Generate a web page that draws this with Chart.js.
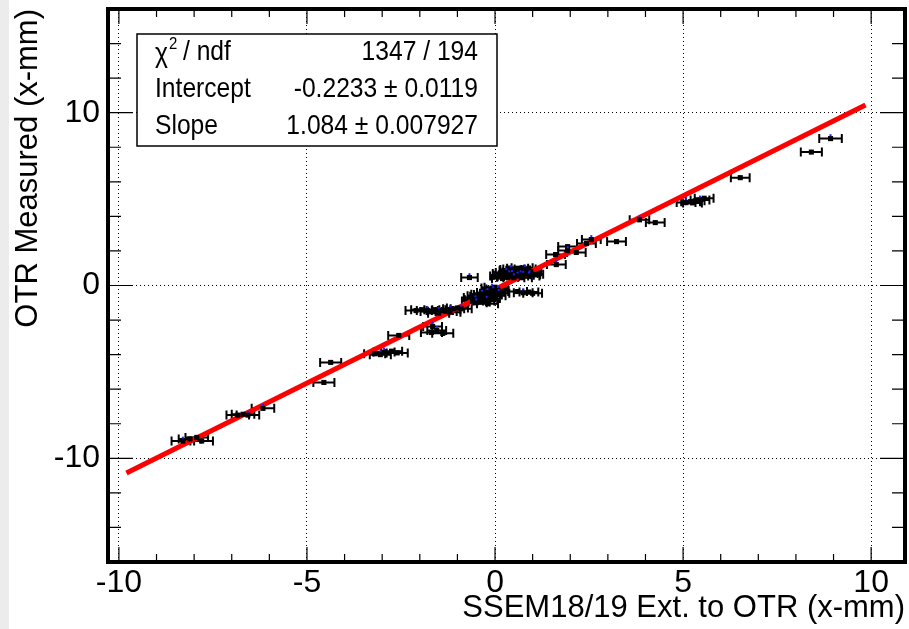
<!DOCTYPE html>
<html>
<head>
<meta charset="utf-8">
<script src="https://cdn.jsdelivr.net/npm/chart.js@4.4.0/dist/chart.umd.min.js"></script>
<style>
html, body { margin: 0; padding: 0; background: #fff; }
#strip { position: absolute; left: 0; top: 0; width: 9px; height: 629px; background: #ececec; }
#wrap { position: absolute; left: 0; top: 0; width: 909px; height: 629px; }
</style>
</head>
<body>
<div id="strip"></div>
<div id="wrap"><canvas id="myChart"></canvas></div>
<script>
// measured points (SSEM extrapolation vs OTR)
const xVals = [
    8.92, 8.41, 6.52, 5.08, 5.20, 5.32, 5.45, 5.56, 5.25,
    3.84, 4.26, 3.23, 2.56, 2.43, 1.93, 1.93, 2.16, 1.61, 1.63,
    0.15, 0.25, 0.30, 0.35, 0.40, 0.45, 0.50, 0.55, 0.60, 0.65, 0.70, 0.75, 0.80, 0.85, 0.90, 0.95, 1.00, 0.50, 0.70, 0.60, 0.80, 0.20,
    0.22, 0.38, 0.48, 0.58, 0.68, 0.78, 0.88, 0.42, 0.62, 0.72, 0.92, 0.33,
    0.60, 0.75, 0.90, 1.00, -0.68,
    -0.60, -0.55, -0.50, -0.45, -0.40, -0.35, -0.30, -0.25, -0.20, -0.15, -0.10, -0.05, 0.00, 0.05, 0.10, -0.20, 0.00,
    -0.52, -0.42, -0.32, -0.22, -0.12, -0.02, 0.08, -0.38, -0.28, -0.08,
    -2.10, -1.95, -1.80, -1.70, -1.60, -1.50, -1.40, -1.30, -1.20, -1.10, -1.00, -0.90, -1.50, -1.20,
    -1.66, -1.69, -1.39, -1.55, -2.56,
    -3.20, -2.95, -2.75, -2.60, -3.05,
    -4.37, -4.55,
    -6.17, -6.84, -6.70, -6.57,
    -7.93, -8.11, -8.30, -7.80
];
const yVals = [
    8.50, 7.72, 6.24, 4.80, 4.85, 4.90, 4.95, 5.05, 4.78,
    3.80, 3.64, 2.54, 2.66, 2.43, 2.25, 2.02, 1.91, 1.79, 1.21,
    0.55, 0.60, 0.75, 0.50, 0.85, 0.65, 0.95, 0.70, 0.55, 0.90, 0.75, 0.60, 0.85, 0.70, 0.55, 0.80, 0.65, 0.45, 0.45, 1.00, 0.95, 0.40,
    0.70, 0.62, 0.78, 0.88, 0.62, 0.72, 0.82, 0.92, 0.68, 1.02, 0.62, 0.48,
    -0.35, -0.42, -0.38, -0.45, 0.46,
    -0.90, -0.70, -1.00, -0.60, -0.80, -0.50, -0.90, -0.65, -0.40, -0.75, -0.55, -0.30, -0.60, -0.20, -0.45, -1.05, -0.10,
    -0.82, -0.95, -0.72, -0.85, -0.45, -0.38, -0.28, -0.62, -0.52, -0.15,
    -1.45, -1.40, -1.45, -1.50, -1.40, -1.50, -1.45, -1.50, -1.40, -1.35, -1.30, -1.35, -1.60, -1.55,
    -2.37, -2.72, -2.77, -2.60, -2.89,
    -3.95, -3.85, -3.80, -3.90, -4.00,
    -4.45, -5.61,
    -7.11, -7.50, -7.45, -7.50,
    -8.79, -8.88, -9.00, -9.00
];
const xErr = [
    0.30, 0.28, 0.25, 0.25, 0.25, 0.25, 0.25, 0.25, 0.25,
    0.26, 0.25, 0.25, 0.25, 0.25, 0.25, 0.25, 0.25, 0.25, 0.25,
    0.28, 0.28, 0.28, 0.28, 0.28, 0.28, 0.28, 0.28, 0.28, 0.28, 0.28, 0.28, 0.28, 0.28, 0.28, 0.28, 0.28, 0.28, 0.28, 0.28, 0.28, 0.28,
    0.28, 0.28, 0.28, 0.28, 0.28, 0.28, 0.28, 0.28, 0.28, 0.28, 0.28, 0.28,
    0.25, 0.25, 0.25, 0.25, 0.22,
    0.28, 0.28, 0.28, 0.28, 0.28, 0.28, 0.28, 0.28, 0.28, 0.28, 0.28, 0.28, 0.28, 0.28, 0.28, 0.28, 0.28,
    0.28, 0.28, 0.28, 0.28, 0.28, 0.28, 0.28, 0.28, 0.28, 0.28,
    0.28, 0.28, 0.28, 0.28, 0.28, 0.28, 0.28, 0.28, 0.28, 0.28, 0.28, 0.28, 0.28, 0.28,
    0.25, 0.28, 0.28, 0.25, 0.28,
    0.28, 0.28, 0.28, 0.28, 0.28,
    0.28, 0.28,
    0.30, 0.30, 0.30, 0.30,
    0.30, 0.30, 0.30, 0.30
];
const yErr = 0.08;

// fitted line end points
const fitX = [-9.80, 9.85];
const fitY = [-10.85, 10.45];

const xTicks = [-10, -5, 0, 5, 10];
const xMinor = [-9, -8, -7, -6, -4, -3, -2, -1, 1, 2, 3, 4, 6, 7, 8, 9];
const yTicks = [-10, 0, 10];
const yMinor = [-16, -14, -12, -8, -6, -4, -2, 2, 4, 6, 8, 12, 14, 16];

const statLabels = ['χ', 'Intercept', 'Slope'];
const statValues = ['1347 / 194', '-0.2233 ± 0.0119', '1.084 ± 0.007927'];

const FONT = '"Liberation Sans", Arial, Helvetica, sans-serif';

const errorBars = {
    id: 'errorBars',
    beforeDatasetsDraw(chart) {
        const ctx = chart.ctx;
        const xs = chart.scales.x, ys = chart.scales.y;
        ctx.save();
        ctx.strokeStyle = '#000';
        ctx.lineWidth = 2;
        for (let i = 0; i < xVals.length; i++) {
            const py = ys.getPixelForValue(yVals[i]);
            const x1 = xs.getPixelForValue(xVals[i] - xErr[i]);
            const x2 = xs.getPixelForValue(xVals[i] + xErr[i]);
            ctx.beginPath();
            ctx.moveTo(x1, py); ctx.lineTo(x2, py);
            ctx.moveTo(x1, py - 4.5); ctx.lineTo(x1, py + 4.5);
            ctx.moveTo(x2, py - 4.5); ctx.lineTo(x2, py + 4.5);
            ctx.stroke();
        }
        ctx.restore();
    },
    afterDatasetsDraw(chart) {
        const ctx = chart.ctx;
        const xs = chart.scales.x, ys = chart.scales.y;
        ctx.save();
        ctx.fillStyle = '#2020ff';
        for (let i = 0; i < xVals.length; i += 3) {
            const px = xs.getPixelForValue(xVals[i]);
            const y1 = ys.getPixelForValue(yVals[i] + yErr);
            ctx.fillRect(px - 1, y1 - 3, 2, 2);
        }
        ctx.restore();
    }
};

// draw text squeezed horizontally, like the condensed font of the original
function squeezed(ctx, text, x, y, sx) {
    ctx.save();
    ctx.translate(x, y);
    ctx.scale(sx, 1);
    ctx.fillText(text, 0, 0);
    ctx.restore();
}

const frameAndStats = {
    id: 'frameAndStats',
    afterDraw(chart) {
        const ctx = chart.ctx;
        const a = chart.chartArea;
        const xs = chart.scales.x, ys = chart.scales.y;
        ctx.save();
        ctx.strokeStyle = '#000';
        ctx.lineWidth = 1.2;
        ctx.beginPath();
        xTicks.forEach(v => {
            const p = xs.getPixelForValue(v);
            ctx.moveTo(p, a.bottom); ctx.lineTo(p, a.bottom - 15);
            ctx.moveTo(p, a.top); ctx.lineTo(p, a.top + 15);
        });
        xMinor.forEach(v => {
            const p = xs.getPixelForValue(v);
            ctx.moveTo(p, a.bottom); ctx.lineTo(p, a.bottom - 8);
            ctx.moveTo(p, a.top); ctx.lineTo(p, a.top + 8);
        });
        yTicks.forEach(v => {
            const p = ys.getPixelForValue(v);
            ctx.moveTo(a.left, p); ctx.lineTo(a.left + 25, p);
            ctx.moveTo(a.right, p); ctx.lineTo(a.right - 25, p);
        });
        yMinor.forEach(v => {
            const p = ys.getPixelForValue(v);
            ctx.moveTo(a.left, p); ctx.lineTo(a.left + 13, p);
            ctx.moveTo(a.right, p); ctx.lineTo(a.right - 13, p);
        });
        ctx.stroke();

        ctx.lineWidth = 4;
        ctx.strokeRect(a.left, a.top, a.right - a.left, a.bottom - a.top);

        // fit statistics box
        const bx = 137, by = 34, bw = 360, bh = 112;
        const sx = 0.88;
        ctx.fillStyle = '#fff';
        ctx.fillRect(bx, by, bw, bh);
        ctx.lineWidth = 1.5;
        ctx.strokeRect(bx, by, bw, bh);
        ctx.fillStyle = '#000';
        ctx.textBaseline = 'middle';
        const rows = [52, 89, 126];
        ctx.font = '28px ' + FONT;
        ctx.textAlign = 'left';
        squeezed(ctx, statLabels[0], 155, rows[0] + 2, sx);
        const cw = ctx.measureText(statLabels[0]).width * sx;
        ctx.font = '17px ' + FONT;
        squeezed(ctx, '2', 155 + cw + 1, rows[0] - 8, sx);
        ctx.font = '28px ' + FONT;
        squeezed(ctx, '/ ndf', 155 + cw + 15, rows[0], sx);
        squeezed(ctx, statLabels[1], 155, rows[1], sx);
        squeezed(ctx, statLabels[2], 155, rows[2], sx);
        ctx.textAlign = 'right';
        statValues.forEach((t, i) => squeezed(ctx, t, 478, rows[i], sx));
        ctx.restore();
    }
};

const points = xVals.map((x, i) => ({ x: x, y: yVals[i] }));
const fitLine = fitX.map((x, i) => ({ x: x, y: fitY[i] }));

new Chart(document.getElementById('myChart'), {
    type: 'scatter',
    data: {
        datasets: [
            {
                label: 'fit',
                type: 'line',
                data: fitLine,
                borderColor: '#ff0000',
                borderWidth: 5,
                pointRadius: 0,
                fill: false,
                order: 1
            },
            {
                label: 'data',
                data: points,
                pointStyle: 'rect',
                pointRadius: 3.6,
                backgroundColor: '#000',
                borderColor: '#000',
                borderWidth: 0,
                order: 0
            }
        ]
    },
    options: {
        responsive: true,
        maintainAspectRatio: false,
        animation: false,
        layout: { padding: { top: 9, right: 3, left: 0, bottom: 0 } },
        plugins: {
            legend: { display: false },
            tooltip: { enabled: false }
        },
        scales: {
            x: {
                type: 'linear',
                min: -10.29,
                max: 10.9,
                afterBuildTicks: s => { s.ticks = xTicks.map(v => ({ value: v })); },
                afterFit: s => { s.height = 67; s.paddingLeft = 0; s.paddingRight = 0; },
                ticks: { color: '#000', font: { family: FONT, size: 32 }, padding: 2, maxRotation: 0, autoSkip: false },
                grid: { color: '#000', lineWidth: 1, drawTicks: false },
                border: { display: false, dash: [1, 3] },
                title: {
                    display: true,
                    text: 'SSEM18/19 Ext. to OTR (x-mm)',
                    align: 'end',
                    color: '#000',
                    font: { family: FONT, size: 31 },
                    padding: { top: 0, bottom: 2 }
                }
            },
            y: {
                type: 'linear',
                min: -16,
                max: 16,
                afterBuildTicks: s => { s.ticks = yTicks.map(v => ({ value: v })); },
                afterFit: s => { s.width = 108; s.paddingTop = 0; s.paddingBottom = 0; },
                ticks: { color: '#000', font: { family: FONT, size: 32 }, padding: 8 },
                grid: { color: '#000', lineWidth: 1, drawTicks: false },
                border: { display: false, dash: [1, 3] },
                title: {
                    display: true,
                    text: 'OTR Measured (x-mm)',
                    align: 'end',
                    color: '#000',
                    font: { family: FONT, size: 31 },
                    padding: { top: 10, bottom: 0 }
                }
            }
        }
    },
    plugins: [errorBars, frameAndStats]
});
</script>
</body>
</html>
